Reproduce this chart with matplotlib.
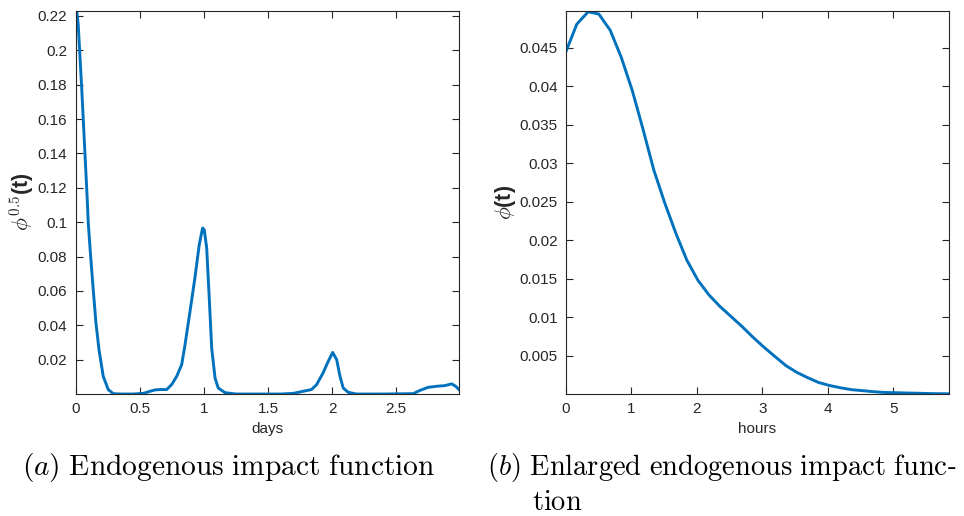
import matplotlib
matplotlib.use("Agg")
import matplotlib.pyplot as plt

# ---- data ----
days = [0.0, 0.008, 0.02, 0.047, 0.073, 0.091, 0.098, 0.117, 0.137, 0.158, 0.182,
        0.215, 0.254, 0.293, 0.35, 0.45, 0.53, 0.58, 0.62, 0.658, 0.71, 0.749, 0.788,
        0.827, 0.853, 0.892, 0.93, 0.964, 0.99, 1.003, 1.022, 1.042, 1.061, 1.087,
        1.112, 1.165, 1.25, 1.4, 1.6, 1.70, 1.775, 1.84, 1.88, 1.93, 1.97, 2.005,
        2.036, 2.062, 2.087, 2.126, 2.19, 2.4, 2.633, 2.686, 2.75, 2.816, 2.88,
        2.933, 2.964, 2.99]
phi_days = [0.2118, 0.2235, 0.2148, 0.178, 0.139, 0.112, 0.0997, 0.080, 0.0607,
            0.0415, 0.0258, 0.0103, 0.0026, 0.0002, 0.0, 0.0, 0.0004, 0.0016, 0.0024,
            0.0026, 0.0026, 0.0055, 0.0103, 0.0171, 0.0287, 0.0481, 0.0675, 0.0869,
            0.0966, 0.0956, 0.085, 0.0559, 0.0268, 0.0094, 0.0035, 0.0008, 0.0, 0.0,
            0.0, 0.0004, 0.0016, 0.0026, 0.0055, 0.0123, 0.019, 0.0242, 0.020, 0.0103,
            0.0035, 0.001, 0.0, 0.0, 0.0002, 0.0021, 0.0039, 0.0045, 0.0049, 0.0059,
            0.0045, 0.0026]

hours = [0.0, 0.168, 0.341, 0.504, 0.677, 0.845, 1.013, 1.176, 1.344, 1.512, 1.68, 1.848,
         2.016, 2.184, 2.352, 2.52, 2.688, 2.856, 3.024, 3.19, 3.36, 3.53, 3.70, 3.86,
         4.03, 4.20, 4.37, 4.54, 4.70, 4.87, 5.04, 5.21, 5.38, 5.55, 5.71, 5.85]
phi_hours = [0.0445, 0.0481, 0.0497, 0.0494, 0.0473, 0.0438, 0.0395, 0.0345, 0.0291,
             0.0248, 0.0209, 0.0174, 0.0148, 0.0129, 0.0114, 0.0101, 0.0088, 0.0074,
             0.0061, 0.0049, 0.0037, 0.0028, 0.0021, 0.0015, 0.0011, 0.0008, 0.00056,
             0.00043, 0.0003, 0.0002, 0.00017, 0.00013, 0.0001, 0.00006, 0.00004, 0.00003]

xticks_a = [0, 0.5, 1, 1.5, 2, 2.5]
xticklabels_a = ["0", "0.5", "1", "1.5", "2", "2.5"]
yticks_a = [0.02, 0.04, 0.06, 0.08, 0.1, 0.12, 0.14, 0.16, 0.18, 0.2, 0.22]
yticklabels_a = ["0.02", "0.04", "0.06", "0.08", "0.1", "0.12", "0.14", "0.16", "0.18", "0.2", "0.22"]
xticks_b = [0, 1, 2, 3, 4, 5]
xticklabels_b = ["0", "1", "2", "3", "4", "5"]
yticks_b = [0.005, 0.01, 0.015, 0.02, 0.025, 0.03, 0.035, 0.04, 0.045]
yticklabels_b = ["0.005", "0.01", "0.015", "0.02", "0.025", "0.03", "0.035", "0.04", "0.045"]

plt.rcParams['font.family'] = ['Liberation Sans', 'DejaVu Sans']
plt.rcParams['mathtext.fontset'] = 'cm'

fig = plt.figure(figsize=(9.64, 5.16), dpi=100)
blue = '#0072BD'
dark = '#262626'

def style(ax):
    for s in ax.spines.values():
        s.set_color(dark)
        s.set_linewidth(0.8)
    ax.tick_params(direction='in', top=True, right=True, length=5, width=0.8,
                   colors=dark, labelsize=11, pad=6)

ax1 = fig.add_axes([0.0785, 0.2364, 0.3976, 0.7423])
ax1.plot(days, phi_days, color=blue, lw=2.1, solid_joinstyle='round')
ax1.set_xlim(0, 2.99)
ax1.set_ylim(0, 0.2229)
ax1.set_xticks(xticks_a)
ax1.set_xticklabels(xticklabels_a)
ax1.set_yticks(yticks_a)
ax1.set_yticklabels(yticklabels_a)
style(ax1)
ax1.set_xlabel('days', fontsize=11, color=dark, labelpad=4)
ax1.set_ylabel(r'$\phi^{\mathsf{0.5}}$(t)', fontsize=15.5, color=dark, fontweight='bold')
ax1.yaxis.set_label_coords(-0.104, 0.503)

ax2 = fig.add_axes([0.587, 0.2364, 0.3973, 0.7423])
ax2.plot(hours, phi_hours, color=blue, lw=2.1, solid_joinstyle='round')
ax2.set_xlim(0, 5.85)
ax2.set_ylim(0, 0.0498)
ax2.set_xticks(xticks_b)
ax2.set_xticklabels(xticklabels_b)
ax2.set_yticks(yticks_b)
ax2.set_yticklabels(yticklabels_b)
style(ax2)
ax2.set_xlabel('hours', fontsize=11, color=dark, labelpad=4)
ax2.set_ylabel(r'$\phi$(t)', fontsize=15.5, color=dark, fontweight='bold')
ax2.yaxis.set_label_coords(-0.126, 0.50)

fig.text(22/964, 1 - 468/516, r'$(a)\ \mathrm{Endogenous\ impact\ function}$',
         fontsize=21.2, color='black', va='center', ha='left')
fig.text(487/964, 1 - 468/516, r'$(b)\ \mathrm{Enlarged\ endogenous\ impact\ func}$-',
         fontsize=20.5, color='black', va='center', ha='left')
fig.text(532/964, 1 - 503/516, r'$\mathrm{tion}$',
         fontsize=20.5, color='black', va='center', ha='left')

fig.savefig('out.png', dpi=100)
